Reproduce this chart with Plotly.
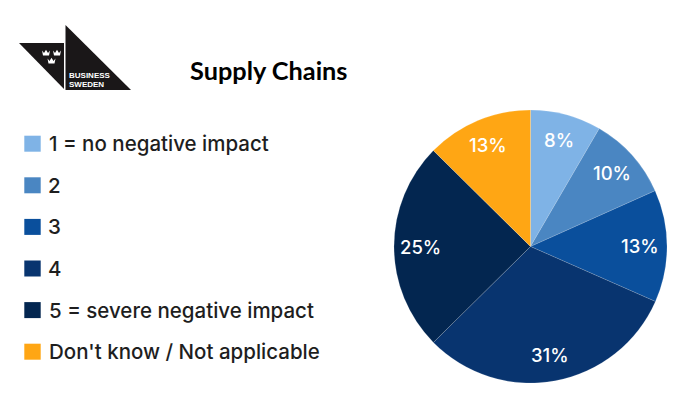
import math
import plotly.graph_objects as go

W = 696
H = 409

# values, slice angles give a bit more than the rounded labels
labels = ["1 = no negative impact", "2", "3", "4", "5 = severe negative impact", "Don't know / Not applicable"]
shares = [8.4, 9.9, 13.3, 31.0, 24.8, 12.6]
colors = ["#7FB3E6", "#4A86C2", "#0A4F9C", "#08346F", "#032650", "#FFA614"]
title_text = "Supply Chains"
logo_lines = ["BUSINESS", "SWEDEN"]


def px_x(x):
    return x / W


def px_y(y):
    return 1 - y / H


def crown(cx, cy):
    # small three pointed crown for the logo
    pts = [(-4, -3), (-2, 0), (0, -4), (2, 0), (4, -3), (3, 3), (-3, 3)]
    d = "M " + " L ".join(f"{px_x(cx + a)} {px_y(cy + b * 0.8)}" for a, b in pts) + " Z"
    return dict(type="path", path=d, xref="paper", yref="paper", fillcolor="white", line_width=0)


def poly(points, color):
    d = "M " + " L ".join(f"{px_x(a)} {px_y(b)}" for a, b in points) + " Z"
    return dict(type="path", path=d, xref="paper", yref="paper", fillcolor=color, line_width=0)


fig = go.Figure()

fig.add_trace(go.Pie(
    labels=labels,
    values=shares,
    sort=False,
    direction="clockwise",
    rotation=0,
    marker=dict(colors=colors, line=dict(color="rgba(255,255,255,0.25)", width=0.6)),
    textinfo="none",
    domain=dict(x=[px_x(394), px_x(667)], y=[px_y(383), px_y(110)]),
    showlegend=False,
    hoverinfo="label+percent",
))

shapes = [
    poly([(19, 43), (64, 43), (64, 89)], "#1A1718"),
    poly([(65.5, 25), (131, 90), (65.5, 90)], "#1A1718"),
    crown(46, 53),
    crown(57, 53),
    crown(51.5, 61),
]
annotations = [
    dict(text=title_text, x=px_x(268.5), y=px_y(70), xref="paper", yref="paper", showarrow=False,
         xanchor="center", yanchor="middle", font=dict(family="Lato", size=25.3, color="black", weight=700)),
    dict(text=logo_lines[0], x=px_x(66.5), y=px_y(76), xref="paper", yref="paper", showarrow=False,
         xanchor="left", yanchor="middle", font=dict(family="Liberation Sans", size=8, color="white", weight=700)),
    dict(text=logo_lines[1], x=px_x(66.5), y=px_y(84), xref="paper", yref="paper", showarrow=False,
         xanchor="left", yanchor="middle", font=dict(family="Liberation Sans", size=8, color="white", weight=700)),
]

# legend drawn by hand, the rows are much further apart than plotly's own legend allows
for i, (name, col) in enumerate(zip(labels, colors)):
    top = 135.7 + i * 41.6
    shapes.append(dict(type="rect", xref="paper", yref="paper", x0=px_x(24.3), x1=px_x(40.7),
                       y0=px_y(top), y1=px_y(top + 16), fillcolor=col, line_width=0))
    annotations.append(dict(text=name, x=px_x(46.5), y=px_y(top + 8), xref="paper", yref="paper",
                            showarrow=False, xanchor="left", yanchor="middle",
                            font=dict(family="Inter", size=20.5, color="#1E1E1E", weight=500)))

# percent labels sit out near the rim, at the middle of each slice
total = sum(shares)
running = 0
for value in shares:
    angle = 2 * math.pi * (running + value / 2) / total
    running += value
    annotations.append(dict(text=f"{round(value)}%", x=px_x(530.5 + 110 * math.sin(angle)),
                            y=px_y(246.5 - 110 * math.cos(angle)), xref="paper", yref="paper",
                            showarrow=False, xanchor="center", yanchor="middle",
                            font=dict(family="Inter", size=18.5, color="white", weight=500)))

fig.update_layout(
    width=W,
    height=H,
    margin=dict(l=0, r=0, t=0, b=0),
    paper_bgcolor="white",
    shapes=shapes,
    annotations=annotations,
)

fig.write_html("out.html", config=dict(displayModeBar=False), post_script="document.body.style.margin='0';")
